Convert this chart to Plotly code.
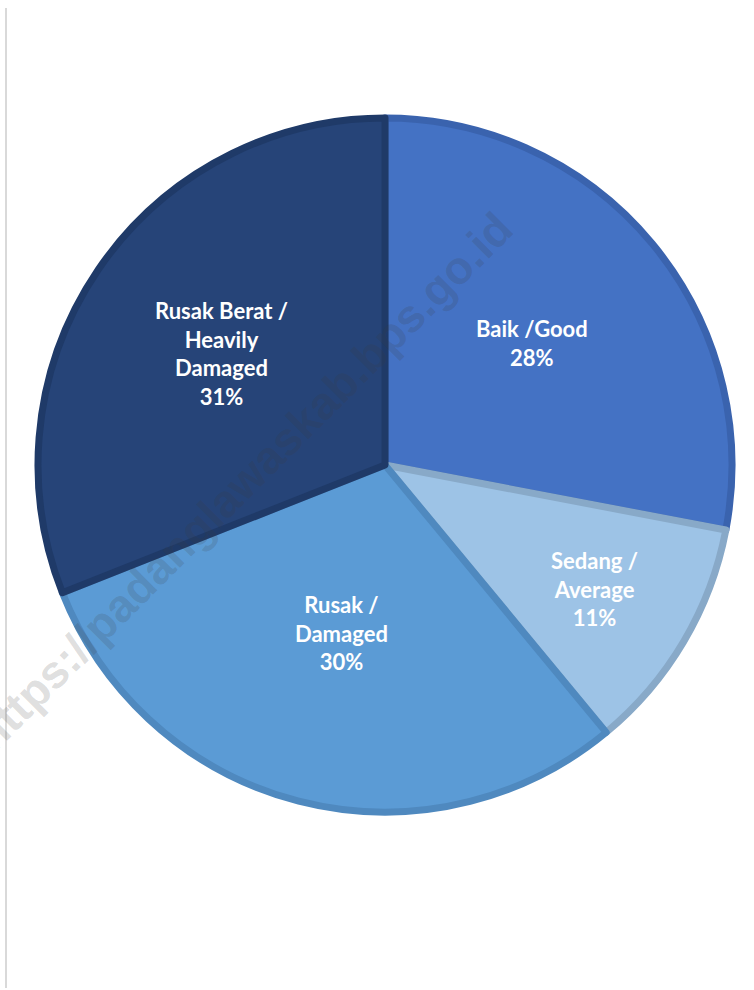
import math
import plotly.graph_objects as go

# ---- data ----
categories = ["Baik /Good", "Sedang /<br>Average", "Rusak /<br>Damaged", "Rusak Berat /<br>Heavily<br>Damaged"]
values = [28, 11, 30, 31]
fill_colors = ["#4472C4", "#9DC3E6", "#5B9BD5", "#264478"]
edge_colors = ["#3A63AE", "#88A9C8", "#4F89BF", "#1F3A68"]
watermark = "https://padanglawaskab.bps.go.id"

# ---- layout / style ----
W, H = 754, 990
cx, cy, R = 385, 465, 347
label_radius = [0.55, 0.70, 0.50, 0.57]   # fraction of radius where each label sits

fig = go.Figure(go.Pie(
    labels=categories,
    values=values,
    sort=False,
    direction="clockwise",
    rotation=0,
    marker=dict(colors=fill_colors, line=dict(color=edge_colors, width=7)),
    textinfo="none",
    domain=dict(x=[(cx - R) / W, (cx + R) / W], y=[1 - (cy + R) / H, 1 - (cy - R) / H]),
    showlegend=False,
    hoverinfo="label+percent",
))

# data labels, placed at each slice's mid-angle
total = sum(values)
cum = 0
for lab, v, rf in zip(categories, values, label_radius):
    mid = 2 * math.pi * (cum + v / 2) / total
    cum += v
    px = cx + rf * R * math.sin(mid)
    py = cy - rf * R * math.cos(mid)
    fig.add_annotation(text=f"{lab}<br>{round(100 * v / total)}%", xref="paper", yref="paper",
                       x=px / W, y=1 - py / H, xanchor="center", yanchor="middle",
                       showarrow=False, align="center",
                       font=dict(family="Lato", size=22, color="white", weight="bold"))

fig.add_shape(type="line", xref="paper", yref="paper",
              x0=6 / W, x1=6 / W, y0=1 - 8 / H, y1=1 - 988 / H,
              line=dict(color="#D9D9D9", width=2))

fig.add_annotation(text=watermark, xref="paper", yref="paper",
                   x=243 / W, y=1 - 482 / H, xanchor="center", yanchor="middle",
                   textangle=-45, showarrow=False,
                   font=dict(family="Liberation Sans", size=46, color="rgba(60,60,60,0.18)", weight="bold"))

fig.update_layout(width=W, height=H, margin=dict(l=0, r=0, t=0, b=0),
                  paper_bgcolor="white", plot_bgcolor="white")
fig.write_html("out.html", config={"displayModeBar": False},
               post_script="document.body.style.margin='0';document.body.style.padding='0';")
